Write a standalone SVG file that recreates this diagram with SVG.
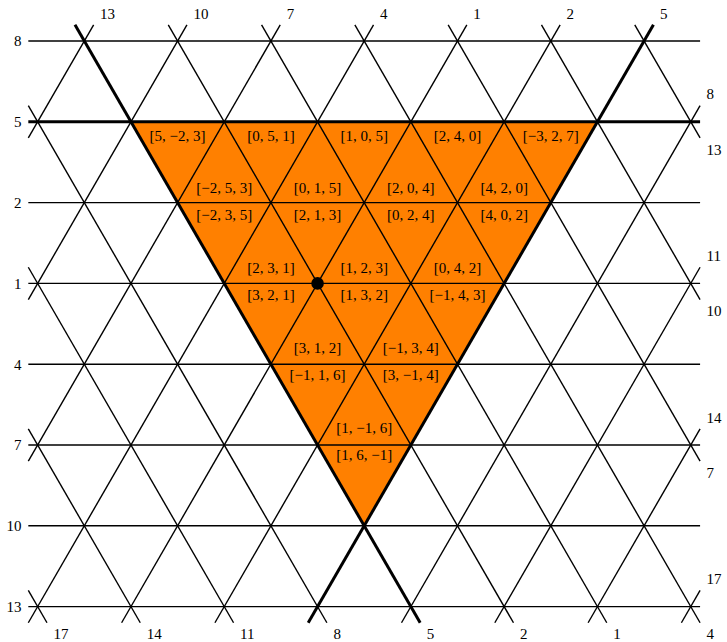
<svg xmlns="http://www.w3.org/2000/svg" width="727" height="642" viewBox="0 0 727 642">
<style>
.thin{stroke:#000;stroke-width:1.4;fill:none;stroke-linecap:butt}
.thick{stroke:#000;stroke-width:3;fill:none}
.ax{font-family:"Liberation Serif","DejaVu Serif",serif;font-size:15px;fill:#000}
.tl{font-family:"Liberation Serif","DejaVu Serif",serif;font-size:15px;fill:#000;text-anchor:middle}
</style>
<rect width="727" height="642" fill="#fff"/>
<g id="region">
<polygon points="130.95,121.8 597.45,121.8 364.2,525.8" fill="#FF8000"/>
</g>
<g id="connectors">
<g id="horizontals" class="thin">
<line x1="28.32" y1="41" x2="700.08" y2="41"/>
<line x1="28.32" y1="202.6" x2="700.08" y2="202.6"/>
<line x1="28.32" y1="283.4" x2="700.08" y2="283.4"/>
<line x1="28.32" y1="364.2" x2="700.08" y2="364.2"/>
<line x1="28.32" y1="445" x2="700.08" y2="445"/>
<line x1="28.32" y1="525.8" x2="700.08" y2="525.8"/>
<line x1="28.32" y1="606.6" x2="700.08" y2="606.6"/>
</g>
<g id="backslash" class="thin">
<line x1="28.32" y1="590.44" x2="46.98" y2="622.76"/>
<line x1="28.32" y1="428.84" x2="140.28" y2="622.76"/>
<line x1="28.32" y1="267.24" x2="233.58" y2="622.76"/>
<line x1="28.32" y1="105.64" x2="326.88" y2="622.76"/>
<line x1="168.27" y1="24.84" x2="513.48" y2="622.76"/>
<line x1="261.57" y1="24.84" x2="606.78" y2="622.76"/>
<line x1="354.87" y1="24.84" x2="700.08" y2="622.76"/>
<line x1="448.17" y1="24.84" x2="700.08" y2="461.16"/>
<line x1="541.47" y1="24.84" x2="700.08" y2="299.56"/>
<line x1="634.77" y1="24.84" x2="700.08" y2="137.96"/>
</g>
<g id="slash" class="thin">
<line x1="28.32" y1="137.96" x2="93.63" y2="24.84"/>
<line x1="28.32" y1="299.56" x2="186.93" y2="24.84"/>
<line x1="28.32" y1="461.16" x2="280.23" y2="24.84"/>
<line x1="28.32" y1="622.76" x2="373.53" y2="24.84"/>
<line x1="121.62" y1="622.76" x2="466.83" y2="24.84"/>
<line x1="214.92" y1="622.76" x2="560.13" y2="24.84"/>
<line x1="401.52" y1="622.76" x2="700.08" y2="105.64"/>
<line x1="494.82" y1="622.76" x2="700.08" y2="267.24"/>
<line x1="588.12" y1="622.76" x2="700.08" y2="428.84"/>
<line x1="681.42" y1="622.76" x2="700.08" y2="590.44"/>
</g>
<g id="thick-lines" class="thick">
<line x1="28.32" y1="121.8" x2="700.08" y2="121.8"/>
<line x1="74.97" y1="24.84" x2="420.18" y2="622.76"/>
<line x1="308.22" y1="622.76" x2="653.43" y2="24.84"/>
</g>
</g>
<g id="dot"><circle cx="317.55" cy="283.4" r="6.3" fill="#000"/></g>
<g id="axis-labels" class="ax">
<g id="left-labels" text-anchor="end">
<text x="21.5" y="46.3">8</text>
<text x="21.5" y="127.1">5</text>
<text x="21.5" y="207.9">2</text>
<text x="21.5" y="288.7">1</text>
<text x="21.5" y="369.5">4</text>
<text x="21.5" y="450.3">7</text>
<text x="21.5" y="531.1">10</text>
<text x="21.5" y="611.9">13</text>
</g>
<g id="top-labels">
<text x="100.1" y="19">13</text>
<text x="193.4" y="19">10</text>
<text x="286.7" y="19">7</text>
<text x="380" y="19">4</text>
<text x="473.3" y="19">1</text>
<text x="566.6" y="19">2</text>
<text x="659.9" y="19">5</text>
</g>
<g id="right-labels">
<text x="706.6" y="99.3">8</text>
<text x="706.6" y="154.8">13</text>
<text x="706.6" y="261">11</text>
<text x="706.6" y="316.4">10</text>
<text x="706.6" y="422.6">14</text>
<text x="706.6" y="478">7</text>
<text x="706.6" y="584">17</text>
</g>
<g id="bottom-labels">
<text x="53.5" y="639.3">17</text>
<text x="146.8" y="639.3">14</text>
<text x="240.1" y="639.3">11</text>
<text x="333.4" y="639.3">8</text>
<text x="426.7" y="639.3">5</text>
<text x="520" y="639.3">2</text>
<text x="613.3" y="639.3">1</text>
<text x="706.6" y="639.3">4</text>
</g>
</g>
<g id="triangle-labels" class="tl">
<text x="177.6" y="140.8">[5, −2, 3]</text>
<text x="270.9" y="140.8">[0, 5, 1]</text>
<text x="364.2" y="140.8">[1, 0, 5]</text>
<text x="457.5" y="140.8">[2, 4, 0]</text>
<text x="550.8" y="140.8">[−3, 2, 7]</text>
<text x="224.25" y="192.6">[−2, 5, 3]</text>
<text x="317.55" y="192.6">[0, 1, 5]</text>
<text x="410.85" y="192.6">[2, 0, 4]</text>
<text x="504.15" y="192.6">[4, 2, 0]</text>
<text x="224.25" y="220.3">[−2, 3, 5]</text>
<text x="317.55" y="220.3">[2, 1, 3]</text>
<text x="410.85" y="220.3">[0, 2, 4]</text>
<text x="504.15" y="220.3">[4, 0, 2]</text>
<text x="270.9" y="273">[2, 3, 1]</text>
<text x="364.2" y="273">[1, 2, 3]</text>
<text x="457.5" y="273">[0, 4, 2]</text>
<text x="270.9" y="300.1">[3, 2, 1]</text>
<text x="364.2" y="300.1">[1, 3, 2]</text>
<text x="457.5" y="300.1">[−1, 4, 3]</text>
<text x="317.55" y="353">[3, 1, 2]</text>
<text x="410.85" y="353">[−1, 3, 4]</text>
<text x="317.55" y="380.1">[−1, 1, 6]</text>
<text x="410.85" y="380.1">[3, −1, 4]</text>
<text x="364.2" y="433">[1, −1, 6]</text>
<text x="364.2" y="460.3">[1, 6, −1]</text>
</g>
</svg>
